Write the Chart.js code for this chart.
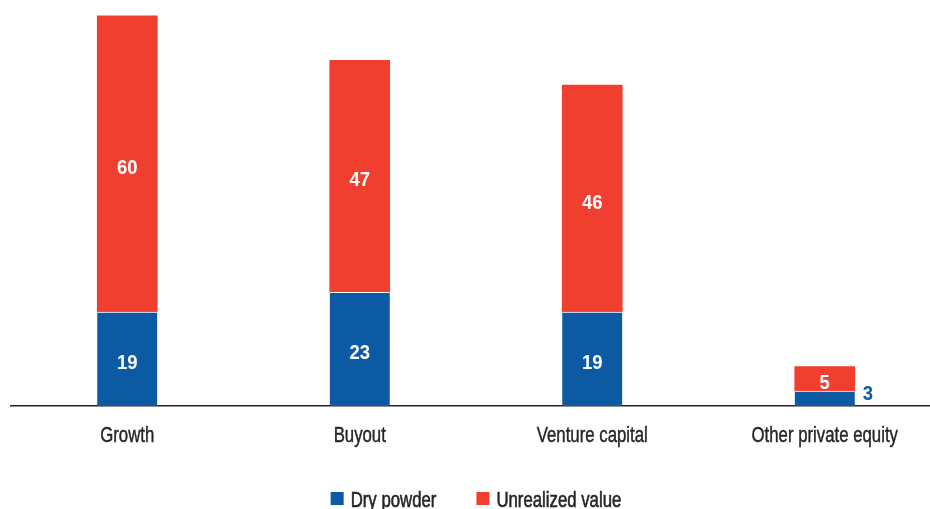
<!DOCTYPE html>
<html>
<head>
<meta charset="utf-8">
<script src="https://cdn.jsdelivr.net/npm/chart.js@4"></script>
<style>
  html, body { margin: 0; padding: 0; background: #fff; overflow: hidden; }
  #wrap { width: 941px; height: 509px; }
</style>
</head>
<body>
<div id="wrap"><canvas id="c" width="941" height="509"></canvas></div>
<script>
// Private equity capital by strategy, stacked: dry powder + unrealized value
const categories = ['Growth', 'Buyout', 'Venture capital', 'Other private equity'];
const dryPowder = [19, 23, 19, 3];
const unrealizedValue = [60, 47, 46, 5];
const seriesNames = ['Dry powder', 'Unrealized value'];

const BLUE = '#0b5aa3';
const RED = '#f03f2f';
const TEXT = '#262626';
const FONT = '"Liberation Sans", Arial, sans-serif';
// the house style uses a condensed grotesque; squeeze the regular face to match
const SQUEEZE = 0.78;

function squeezedText(ctx, text, x, y, align, font, color, squeeze, weight) {
  ctx.save();
  ctx.font = font;
  ctx.fillStyle = color;
  ctx.textBaseline = 'alphabetic';
  const w = ctx.measureText(text).width * squeeze;
  let left = x;
  if (align === 'center') left = x - w / 2;
  else if (align === 'right') left = x - w;
  ctx.translate(left, y);
  ctx.scale(squeeze, 1);
  ctx.textAlign = 'left';
  ctx.fillText(text, 0, 0);
  if (weight) {
    // a hairline outline gives the regular face a medium weight
    ctx.strokeStyle = color;
    ctx.lineWidth = weight;
    ctx.lineJoin = 'round';
    ctx.strokeText(text, 0, 0);
  }
  ctx.restore();
  return w;
}

function squeezedWidth(ctx, text, font, squeeze) {
  ctx.save();
  ctx.font = font;
  const w = ctx.measureText(text).width * squeeze;
  ctx.restore();
  return w;
}

// Category names under the axis, placed at the x scale's tick positions
const categoryLabels = {
  id: 'categoryLabels',
  afterDraw(chart) {
    const xs = chart.scales.x;
    const y = chart.chartArea.bottom + 35.5;
    xs.ticks.forEach((t, i) => {
      squeezedText(chart.ctx, chart.data.labels[i], xs.getPixelForTick(i), y,
        'center', '21.5px ' + FONT, TEXT, SQUEEZE, 0.45);
    });
  }
};

// Series key centred under the plot
const seriesKey = {
  id: 'seriesKey',
  afterDraw(chart) {
    const ctx = chart.ctx;
    const font = '21.5px ' + FONT;
    const box = 13, boxGap = 7, itemGap = 40;
    const items = chart.data.datasets.map(ds => ({
      text: ds.label, color: ds.backgroundColor,
      w: squeezedWidth(ctx, ds.label, font, SQUEEZE)
    }));
    const total = items.reduce((s, it) => s + box + boxGap + it.w, 0) + itemGap * (items.length - 1);
    const ca = chart.chartArea;
    let x = (ca.left + ca.right) / 2 - total / 2;
    const baseline = 506.5;
    items.forEach(it => {
      ctx.fillStyle = it.color;
      ctx.fillRect(x, baseline - 14.5, box, box);
      x += box + boxGap;
      squeezedText(ctx, it.text, x, baseline, 'left', font, TEXT, SQUEEZE, 0.6);
      x += it.w + itemGap;
    });
  }
};

// Writes each segment's value in its centre; a segment too short for its label
// gets the label beside the bar instead, in the series colour.
const valueLabels = {
  id: 'valueLabels',
  afterDatasetsDraw(chart) {
    const ctx = chart.ctx;
    const font = 'bold 21px ' + FONT;
    chart.data.datasets.forEach((ds, di) => {
      const meta = chart.getDatasetMeta(di);
      meta.data.forEach((bar, i) => {
        const v = String(ds.data[i]);
        const h = Math.abs(bar.base - bar.y);
        const cy = (bar.y + bar.base) / 2;
        if (h >= 22) {
          squeezedText(ctx, v, bar.x, cy + 10, 'center', font, '#ffffff', 0.88);
        } else {
          squeezedText(ctx, v, bar.x + bar.width / 2 + 8, cy + 1.5, 'left', font, ds.backgroundColor, 0.88);
        }
      });
    });
  }
};

new Chart(document.getElementById('c'), {
  type: 'bar',
  data: {
    labels: categories,
    datasets: [
      { label: seriesNames[0], data: dryPowder, backgroundColor: BLUE,
        borderColor: '#ffffff', borderWidth: { top: 1 }, borderSkipped: false },
      { label: seriesNames[1], data: unrealizedValue, backgroundColor: RED,
        borderColor: '#ffffff', borderWidth: 0 }
    ]
  },
  options: {
    responsive: false,
    animation: false,
    layout: { padding: { left: 11, right: 0, top: 11, bottom: 103 } },
    datasets: { bar: { barThickness: 60 } },
    scales: {
      x: {
        stacked: true,
        grid: { display: false, drawTicks: false },
        border: { display: true, color: '#222', width: 1.5 },
        ticks: { display: false }
      },
      y: {
        stacked: true,
        display: false,
        min: 0,
        max: 80
      }
    },
    plugins: {
      legend: { display: false },
      tooltip: { enabled: false }
    }
  },
  plugins: [valueLabels, categoryLabels, seriesKey]
});
</script>
</body>
</html>
